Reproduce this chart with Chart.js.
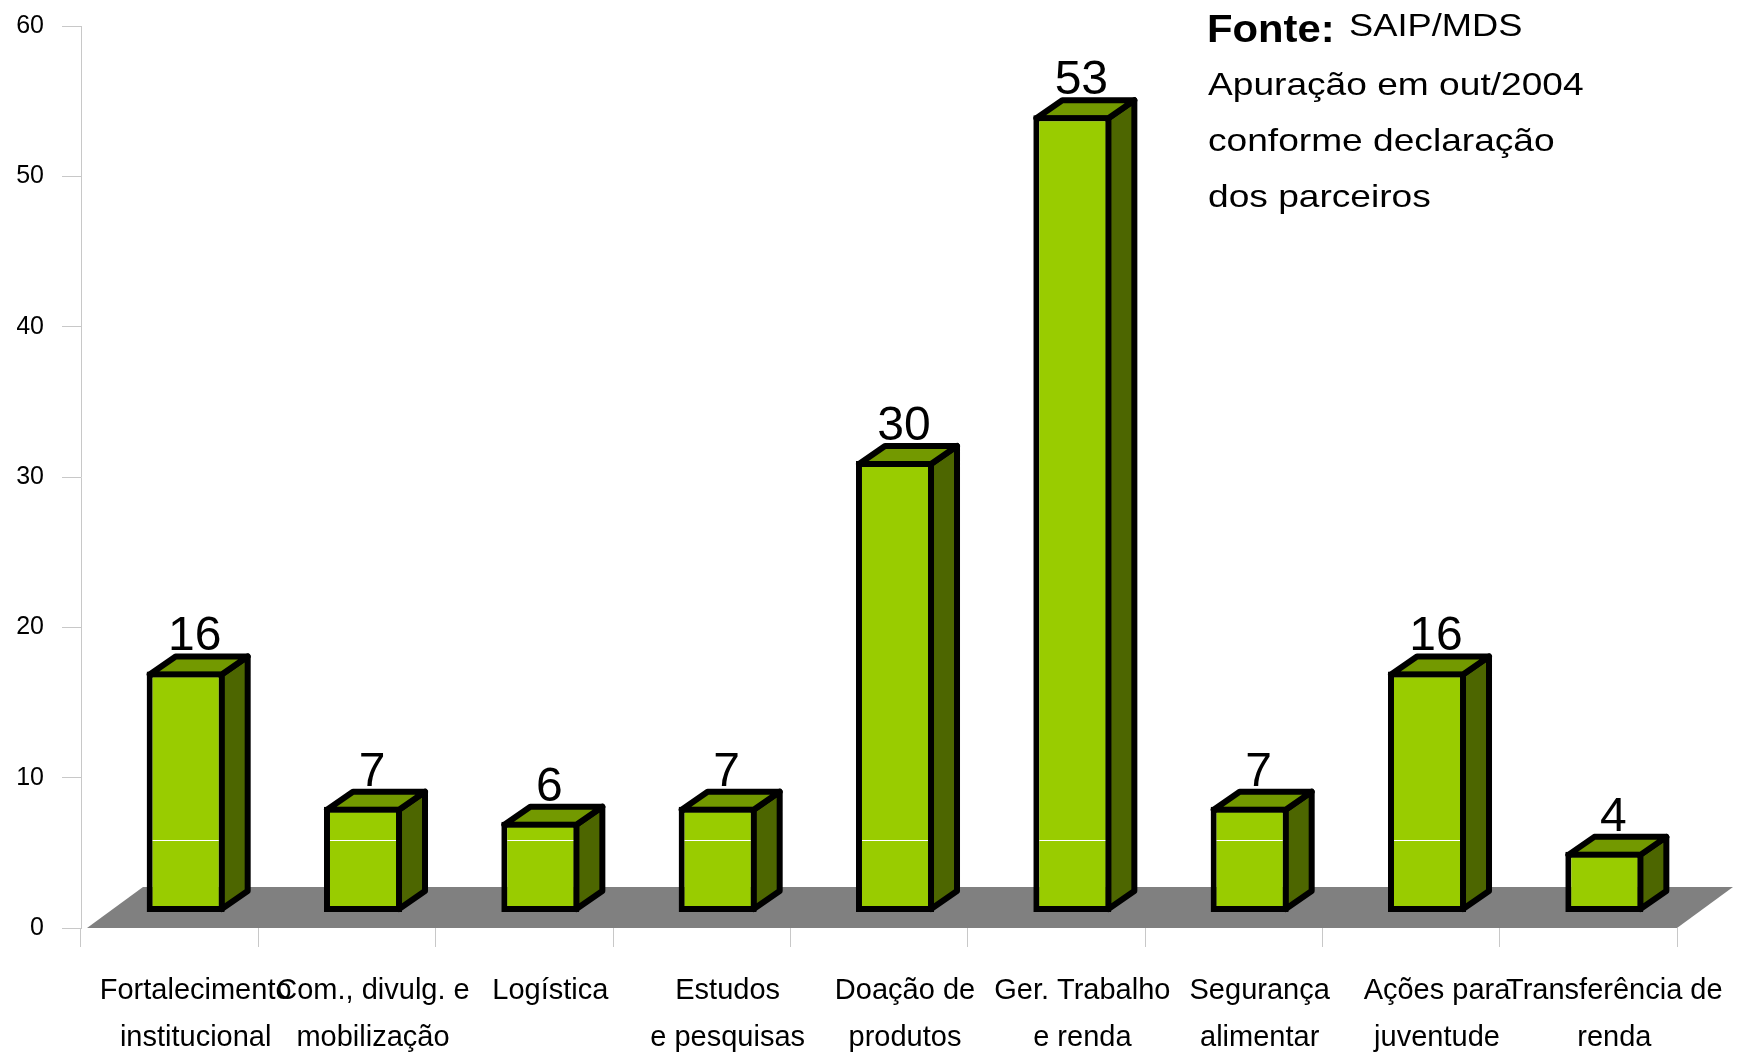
<!DOCTYPE html>
<html>
<head>
<meta charset="utf-8">
<script src="https://cdn.jsdelivr.net/npm/chart.js@4/dist/chart.umd.min.js"></script>
<style>
  html, body { margin: 0; padding: 0; background: #fff; }
  #wrap { width: 1748px; height: 1054px; }
</style>
</head>
<body>
<div id="wrap"><canvas id="chart"></canvas></div>
<script>
const categories = [
  ['Fortalecimento', 'institucional'],
  ['Com., divulg. e', 'mobilização'],
  ['Logística'],
  ['Estudos', 'e pesquisas'],
  ['Doação de', 'produtos'],
  ['Ger. Trabalho', 'e renda'],
  ['Segurança', 'alimentar'],
  ['Ações para', 'juventude'],
  ['Transferência de', 'renda'],
]
const values = [16, 7, 6, 7, 30, 53, 7, 16, 4]
const yTicks = [0, 10, 20, 30, 40, 50, 60]
const sourceLabel = 'Fonte:'
const sourceName = 'SAIP/MDS'
const noteLines = ['Apuração em out/2004', 'conforme declaração', 'dos parceiros']

const FONT = '"Liberation Sans", Arial, sans-serif'

// 3d look: bar depth, floor depth, bars sit a bit behind the front plane
const bar3d = { dx: 26, dy: -18, shift: 16 }
const floor3d = { dx: 56, dy: -41, inset: 6 }

const threeD = {
  id: 'threeD',
  beforeDatasetsDraw(chart) {
    const { ctx, chartArea, scales } = chart
    const y0 = scales.y.getPixelForValue(0)
    ctx.save()
    ctx.fillStyle = '#808080'
    ctx.beginPath()
    ctx.moveTo(chartArea.left + floor3d.inset, y0)
    ctx.lineTo(chartArea.right, y0)
    ctx.lineTo(chartArea.right + floor3d.dx, y0 + floor3d.dy)
    ctx.lineTo(chartArea.left + floor3d.inset + floor3d.dx, y0 + floor3d.dy)
    ctx.closePath()
    ctx.fill()

    // value labels go behind the bars
    ctx.fillStyle = '#000'
    ctx.font = '48px ' + FONT
    ctx.textAlign = 'center'
    ctx.textBaseline = 'alphabetic'
    chart.getDatasetMeta(0).data.forEach((el, i) => {
      const v = chart.data.datasets[0].data[i]
      ctx.fillText(String(v), el.x + bar3d.shift + bar3d.dx / 2 - 4, el.y + bar3d.dy - 3)
    })
    ctx.restore()
  },
  beforeDatasetDraw(chart) {
    const { ctx } = chart
    ctx.save()
    ctx.translate(bar3d.shift, 0)
    ctx.lineWidth = 6
    ctx.lineJoin = 'round'
    ctx.strokeStyle = '#000'
    chart.getDatasetMeta(0).data.forEach(el => {
      const l = el.x - el.width / 2 + 3
      const r = el.x + el.width / 2 - 3
      const t = el.y + 3
      const b = el.base - 3
      const { dx, dy } = bar3d
      // side
      ctx.fillStyle = '#4d6600'
      ctx.beginPath()
      ctx.moveTo(r, t)
      ctx.lineTo(r + dx, t + dy)
      ctx.lineTo(r + dx, b + dy)
      ctx.lineTo(r, b)
      ctx.closePath()
      ctx.fill()
      ctx.stroke()
      // top
      ctx.fillStyle = '#739900'
      ctx.beginPath()
      ctx.moveTo(l, t)
      ctx.lineTo(r, t)
      ctx.lineTo(r + dx, t + dy)
      ctx.lineTo(l + dx, t + dy)
      ctx.closePath()
      ctx.fill()
      ctx.stroke()
    })
  },
  afterDatasetDraw(chart) {
    const { ctx, scales } = chart
    // thin light line that shows across the front faces
    const ly = Math.round(scales.y.getPixelForValue(5.85)) + 0.5
    ctx.strokeStyle = '#ffffff'
    ctx.lineWidth = 1
    chart.getDatasetMeta(0).data.forEach(el => {
      if (el.y < ly - 6) {
        ctx.beginPath()
        ctx.moveTo(el.x - el.width / 2 + 6, ly)
        ctx.lineTo(el.x + el.width / 2 - 6, ly)
        ctx.stroke()
      }
    })
    ctx.restore()
  },
  afterDraw(chart) {
    const { ctx } = chart
    const put = (text, x, y, font, sx) => {
      ctx.save()
      ctx.translate(x, y)
      ctx.scale(sx, 1)
      ctx.font = font
      ctx.fillText(text, 0, 0)
      ctx.restore()
    }
    ctx.save()
    ctx.fillStyle = '#000'
    ctx.textAlign = 'left'
    ctx.textBaseline = 'alphabetic'
    put(sourceLabel, 1207, 42, 'bold 38px ' + FONT, 1.1)
    put(sourceName, 1349, 36, '31px ' + FONT, 1.17)
    noteLines.forEach((line, i) => {
      put(line, 1208, 95 + i * 56, '32px ' + FONT, 1.16)
    })
    ctx.restore()
  },
}

new Chart(document.getElementById('chart').getContext('2d'), {
  type: 'bar',
  data: {
    labels: categories,
    datasets: [
      {
        data: values,
        yAxisID: 'yBar',
        backgroundColor: '#99cc00',
        borderColor: '#000',
        borderWidth: 6,
        borderSkipped: false,
        categoryPercentage: 1,
        barPercentage: 0.44,
        clip: false,
      },
    ],
  },
  options: {
    responsive: true,
    maintainAspectRatio: false,
    animation: false,
    layout: { padding: { left: 17, right: 71, top: 26, bottom: 0 } },
    plugins: {
      legend: { display: false },
      tooltip: { enabled: false },
    },
    scales: {
      x: {
        offset: true,
        border: { display: false },
        grid: {
          offset: true,
          drawOnChartArea: false,
          drawTicks: true,
          tickLength: 19,
          tickColor: '#c8c8c8',
        },
        ticks: {
          color: '#000',
          font: { family: FONT, size: 29, lineHeight: 1.6 },
          maxRotation: 0,
          autoSkip: false,
          padding: 21,
          labelOffset: 26,
        },
        afterFit(scale) { scale.height = 126 },
      },
      y: {
        position: 'left',
        min: yTicks[0],
        max: yTicks[yTicks.length - 1],
        border: { display: true, color: '#c8c8c8', width: 1 },
        grid: {
          drawOnChartArea: false,
          drawTicks: true,
          tickLength: 19,
          tickColor: '#c8c8c8',
        },
        ticks: {
          stepSize: yTicks[1] - yTicks[0],
          color: '#000',
          font: { family: FONT, size: 25 },
          padding: 18,
        },
        afterFit(scale) {
          scale.width = 64
          scale.paddingTop = 0
          scale.paddingBottom = 0
        },
      },
      yBar: {
        display: false,
        min: -1.065,
        max: 58.935,
      },
    },
  },
  plugins: [threeD],
})
</script>
</body>
</html>
